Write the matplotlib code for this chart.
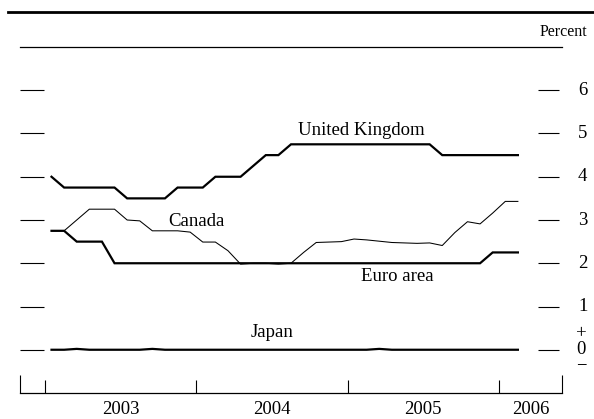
import numpy as np
import matplotlib
matplotlib.use("Agg")
import matplotlib.pyplot as plt
from matplotlib.lines import Line2D

plt.rcParams['font.family'] = ['Liberation Serif', 'DejaVu Serif']

# Monthly averages, Jan 2003 - Feb 2006 (percent)
months = 2003 + (np.arange(38) + 0.5) / 12.0
uk = [4.0, 3.75, 3.75, 3.75, 3.75, 3.75, 3.5, 3.5, 3.5, 3.5,
      3.75, 3.75, 3.75, 4.0, 4.0, 4.0, 4.25, 4.5, 4.5, 4.75,
      4.75, 4.75, 4.75, 4.75, 4.75, 4.75, 4.75, 4.75, 4.75, 4.75,
      4.75, 4.5, 4.5, 4.5, 4.5, 4.5, 4.5, 4.5]
euro = [2.75, 2.75, 2.5, 2.5, 2.5, 2.0, 2.0, 2.0, 2.0, 2.0,
        2.0, 2.0, 2.0, 2.0, 2.0, 2.0, 2.0, 2.0, 2.0, 2.0,
        2.0, 2.0, 2.0, 2.0, 2.0, 2.0, 2.0, 2.0, 2.0, 2.0,
        2.0, 2.0, 2.0, 2.0, 2.0, 2.25, 2.25, 2.25]
canada = [2.75, 2.75, 3.0, 3.25, 3.25, 3.25, 3.0, 2.98, 2.75, 2.75,
          2.75, 2.72, 2.49, 2.49, 2.29, 1.98, 2.0, 2.0, 1.98, 2.0,
          2.25, 2.48, 2.49, 2.50, 2.56, 2.54, 2.51, 2.48, 2.47, 2.46,
          2.47, 2.41, 2.71, 2.96, 2.91, 3.16, 3.43, 3.43]
japan = [0.0, 0.0, 0.02, 0.0, 0.0, 0.0, 0.0, 0.0, 0.02, 0.0,
         0.0, 0.0, 0.0, 0.0, 0.0, 0.0, 0.0, 0.0, 0.0, 0.0,
         0.0, 0.0, 0.0, 0.0, 0.0, 0.0, 0.02, 0.0, 0.0, 0.0,
         0.0, 0.0, 0.0, 0.0, 0.0, 0.0, 0.0, 0.0]

yticks = [0, 1, 2, 3, 4, 5, 6]
year_bounds = [2003, 2004, 2005, 2006]
year_labels = ['2003', '2004', '2005', '2006']

W, H = 594, 419
fig = plt.figure(figsize=(W / 100, H / 100), dpi=100)
ax = fig.add_axes([20 / W, 1 - 393 / H, 542 / W, 346 / H])
x0, x1 = 2002 + 10 / 12, 2006 + 5 / 12
ax.set_xlim(x0, x1)
ax.set_ylim(-1, 7)
ax.set_xticks([])
ax.set_yticks([])
for s in ['left', 'right']:
    ax.spines[s].set_visible(False)
for s in ['top', 'bottom']:
    ax.spines[s].set_linewidth(0.9)

thick = 1.6
ax.plot(months, uk, color='black', lw=thick, solid_joinstyle='miter')
ax.plot(months, euro, color='black', lw=thick, solid_joinstyle='miter')
ax.plot(months, canada, color='black', lw=0.75)
ax.plot(months, japan, color='black', lw=thick)

ytr = ax.get_yaxis_transform()
xtr = ax.get_xaxis_transform()
ax.hlines(yticks, 0, 24 / 542, transform=ytr, color='black', lw=0.8, clip_on=False)
ax.hlines(yticks, 518 / 542, 539 / 542, transform=ytr, color='black', lw=0.8, clip_on=False)
for v in [6, 5, 4, 3, 2, 1]:
    ax.text(558 / 542, v, str(v), transform=ytr, ha='left', va='center',
            fontsize=13.5, clip_on=False)
ax.text(561 / 542, 0, '+\n0\n\u2212', transform=ytr, ha='center', va='center',
        multialignment='center', fontsize=13.5, linespacing=0.95, clip_on=False)

ax.vlines(year_bounds, 0, 13 / 346, transform=xtr, color='black', lw=0.8)
ax.vlines([x0, x1], 0, 18 / 346, transform=xtr, color='black', lw=0.8, clip_on=False)
mids = [2003.5, 2004.5, 2005.5, (2006 + x1) / 2]
for m, lab in zip(mids, year_labels):
    ax.text(m, -16 / 346, lab, transform=xtr, ha='center', va='center',
            fontsize=13.5, clip_on=False)

ax.text(2005.093, 4.97, 'United Kingdom', ha='center', va='baseline', fontsize=13.5)
ax.text(2004.003, 2.87, 'Canada', ha='center', va='baseline', fontsize=13.5)
ax.text(2005.331, 1.58, 'Euro area', ha='center', va='baseline', fontsize=13.5)
ax.text(2004.501, 0.29, 'Japan', ha='center', va='baseline', fontsize=13.5)

fig.text(587 / W, 1 - 32 / H, 'Percent', ha='right', va='center', fontsize=11.5)
fig.add_artist(Line2D([8 / W, 1.0], [1 - 12 / H] * 2, lw=2.0, color='black',
                      transform=fig.transFigure))

fig.savefig('out.png', dpi=100)
